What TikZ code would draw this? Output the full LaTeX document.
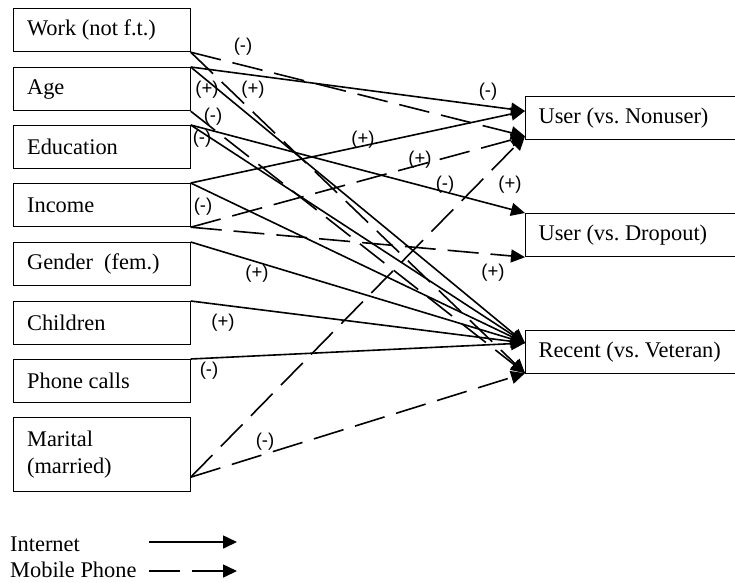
\documentclass[tikz,border=0pt]{standalone}
\usepackage{fontspec}
\setmainfont{Liberation Serif}
\newfontfamily\labfont{Liberation Sans}
\usetikzlibrary{arrows.meta,calc}
\frenchspacing
\begin{document}
\begin{tikzpicture}[x=1pt,y=-1pt,
  box/.style={draw, line width=1.2pt, anchor=north west, minimum width=177pt, minimum height=43pt,
    text width=149pt, inner xsep=14pt, inner ysep=0pt, align=flush left, font=\fontsize{22.4}{27}\selectfont},
  rbox/.style={box, minimum width=250pt, text width=224pt, inner xsep=13pt},
  inet/.style={line width=1.6pt, -{Triangle[length=14pt,width=13pt]}},
  mob/.style={inet, dash pattern=on 31pt off 12pt},
  sg/.style={font=\labfont\fontsize{18.5}{18.5}\selectfont, inner sep=0pt},
  txt/.style={font=\fontsize{22.4}{27}\selectfont, anchor=west, inner sep=0pt}]
\useasboundingbox (0,0) rectangle (735,582);
% left boxes
\node[box] (work) at (12.5,8) {Work (not f.t.)};
\node[box] (age) at (12.5,67) {Age};
\node[box] (edu) at (12.5,125) {Education};
\node[box] (inc) at (12.5,183) {Income};
\node[box] (gen) at (12.5,242) {Gender\ \ (fem.)};
\node[box] (chi) at (12.5,301) {Children};
\node[box] (pho) at (12.5,359) {Phone calls};
\node[box, minimum height=74pt] (mar) at (12.5,417) {Marital\\(married)};
% right boxes
\node[rbox] (nonu) at (525,96) {User (vs. Nonuser)};
\node[rbox] (drop) at (525,213) {User (vs. Dropout)};
\node[rbox] (rec) at (525,330) {Recent (vs. Veteran)};
% connector ends
\coordinate (nonuI) at ($(nonu.north west)+(0,15)$);
\coordinate (nonuM) at ($(nonu.south west)+(0,-4)$);
\coordinate (recI) at ($(rec.north west)+(0,13)$);
\coordinate (recM) at ($(rec.south west)+(0,-1)$);
\coordinate (marP) at ($(mar.south east)+(0,-15)$);
% connectors
\draw[mob] (work.south east) -- (nonuM);
\draw[mob] (work.south east) -- (recM);
\draw[inet] (age.north east) -- (nonuI);
\draw[inet] (age.north east) -- (recI);
\draw[mob] (age.south east) -- (recM);
\draw[inet] (edu.north east) -- (drop.north west);
\draw[inet] (edu.north east) -- (recI);
\draw[inet] (inc.north east) -- (nonuI);
\draw[inet] (inc.north east) -- (recI);
\draw[mob] (inc.south east) -- (nonuM);
\draw[mob] (inc.south east) -- (drop.south west);
\draw[inet] (gen.north east) -- (recI);
\draw[inet] (chi.north east) -- (recI);
\draw[inet] (pho.north east) -- (recI);
\draw[mob] (marP) -- (nonuM);
\draw[mob] (marP) -- (recM);
% signs
\node[sg] (s1) at (243,47) {(-)};
\node[sg] (s2) at (207,90) {(+)};
\node[sg] (s3) at (253,90) {(+)};
\node[sg] (s4) at (213,117) {(-)};
\node[sg] (s5) at (202,139) {(-)};
\node[sg] (s6) at (488,92) {(-)};
\node[sg] (s7) at (363,140) {(+)};
\node[sg] (s8) at (420,160) {(+)};
\node[sg] (s9) at (445,185) {(-)};
\node[sg] (s10) at (510,185) {(+)};
\node[sg] (s11) at (203,207) {(-)};
\node[sg] (s12) at (257,274) {(+)};
\node[sg] (s13) at (493,273) {(+)};
\node[sg] (s14) at (223,323) {(+)};
\node[sg] (s15) at (209,371) {(-)};
\node[sg] (s16) at (265,442) {(-)};
% legend
\node[txt] (leg1) at (10,544) {Internet};
\node[txt] (leg2) at (10,570) {Mobile Phone};
\coordinate (la1) at (149,542);
\coordinate (lb1) at (237,542);
\coordinate (la2) at (149,571);
\coordinate (lb2) at (237,571);
\draw[inet] (la1) -- (lb1);
\draw[mob] (la2) -- (lb2);
\end{tikzpicture}
\end{document}
